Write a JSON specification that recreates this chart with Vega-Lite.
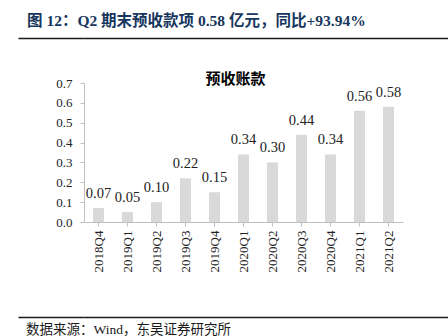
{
  "$schema": "https://vega.github.io/schema/vega-lite/v6.json",
  "padding": {"left": 17, "top": 13, "right": 0, "bottom": 0},
  "background": "#ffffff",
  "config": {"view": {"stroke": null}},
  "spacing": 0,
  "bounds": "full",
  "vconcat": [
    {
      "width": 364,
      "height": 31,
      "data": {"values": [{"v": 0}, {"v": 1}]},
      "mark": {"type": "point", "opacity": 0},
      "encoding": {
        "x": {"field": "v", "type": "quantitative", "scale": {"domain": [0, 1], "nice": false},
          "axis": {"orient": "top", "domain": true, "domainColor": "#1a1a1a", "domainWidth": 1.6, "ticks": false, "labels": false, "grid": false, "title": null}},
        "y": {"field": "v", "type": "quantitative", "scale": {"domain": [0, 1], "nice": false},
          "axis": {"orient": "left", "values": [1], "domain": false, "labels": false, "ticks": true, "tickSize": 66, "tickColor": "#1a1a1a", "tickWidth": 1.6, "grid": false, "title": null}}
      },
      "title": {"text": "图 12：Q2 期末预收款项 0.58 亿元，同比+93.94%", "anchor": "start", "orient": "top", "offset": 6, "dx": -57, "fontSize": 15.5, "fontWeight": "bold", "color": "#17365d", "font": "Liberation Serif, Noto Sans CJK SC", "frame": "group"}
    },
    {
      "width": 319,
      "height": 139,
      "data": {"values": [
        {"q": "2018Q4", "v": 0.07},
        {"q": "2019Q1", "v": 0.05},
        {"q": "2019Q2", "v": 0.10},
        {"q": "2019Q3", "v": 0.22},
        {"q": "2019Q4", "v": 0.15},
        {"q": "2020Q1", "v": 0.34},
        {"q": "2020Q2", "v": 0.30},
        {"q": "2020Q3", "v": 0.44},
        {"q": "2020Q4", "v": 0.34},
        {"q": "2021Q1", "v": 0.56},
        {"q": "2021Q2", "v": 0.58}
      ]},
      "title": {"text": "预收账款", "anchor": "middle", "dx": -8, "offset": -10, "fontSize": 15, "fontWeight": "bold", "color": "#000000", "font": "Noto Sans CJK SC"},
      "encoding": {
        "x": {"field": "q", "type": "nominal", "sort": null,
          "scale": {"paddingInner": 0.62, "paddingOuter": 0.31},
          "axis": {"title": null, "labelAngle": -90, "labelFont": "Liberation Serif", "labelFontSize": 13, "labelColor": "#222222", "labelPadding": 4, "tickSize": 4, "tickColor": "#bfbfbf", "domainColor": "#bfbfbf", "grid": false}},
        "y": {"field": "v", "type": "quantitative",
          "scale": {"domain": [0, 0.7], "nice": false},
          "axis": {"title": null, "values": [0, 0.1, 0.2, 0.3, 0.4, 0.5, 0.6, 0.7], "format": ".1f", "labelFont": "Liberation Serif", "labelFontSize": 13, "labelColor": "#222222", "labelPadding": 8, "tickSize": 4, "tickColor": "#bfbfbf", "domainColor": "#bfbfbf", "grid": false, "minExtent": 66}}
      },
      "layer": [
        {"mark": {"type": "bar", "color": "#d9d9d9"}},
        {"mark": {"type": "text", "baseline": "alphabetic", "dy": -10, "font": "Liberation Serif", "fontSize": 14.5, "color": "#222222"},
          "encoding": {"text": {"field": "v", "type": "quantitative", "format": ".2f"}}}
      ]
    },
    {
      "width": 364,
      "height": 42,
      "data": {"values": [{"v": 0}, {"v": 1}]},
      "mark": {"type": "point", "opacity": 0},
      "encoding": {
        "x": {"field": "v", "type": "quantitative", "scale": {"domain": [0, 1], "nice": false},
          "axis": {"orient": "bottom", "domain": true, "domainColor": "#1a1a1a", "domainWidth": 1.6, "ticks": false, "labels": false, "grid": false, "title": null}},
        "y": {"field": "v", "type": "quantitative", "scale": {"domain": [0, 1], "nice": false},
          "axis": {"orient": "left", "values": [0], "domain": false, "labels": false, "ticks": true, "tickSize": 66, "tickColor": "#1a1a1a", "tickWidth": 1.6, "grid": false, "title": null}}
      },
      "title": {"text": "数据来源：Wind，东吴证券研究所", "anchor": "start", "orient": "bottom", "offset": 3, "dx": -58, "fontSize": 13.5, "fontWeight": "normal", "color": "#1a1a1a", "font": "Liberation Serif, Noto Sans CJK SC", "frame": "group"}
    }
  ]
}
